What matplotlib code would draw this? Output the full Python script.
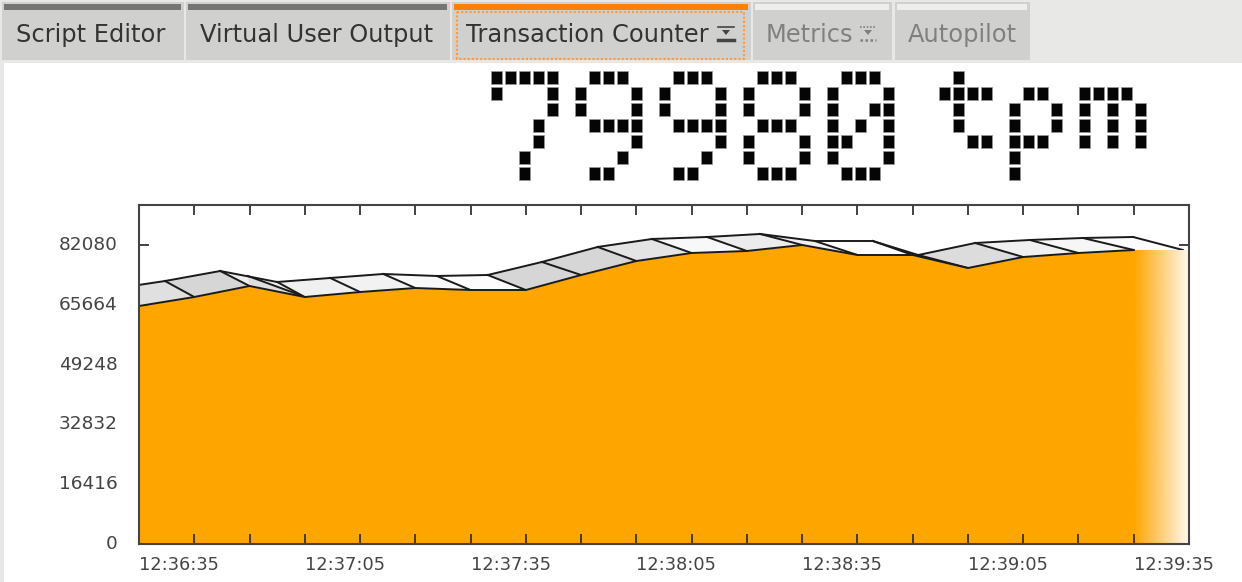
import numpy as np
import matplotlib
matplotlib.use("Agg")
import matplotlib.pyplot as plt
from matplotlib.patches import Rectangle, Polygon
from matplotlib.transforms import ScaledTranslation

# seconds after 12:36:35, one sample every 10 s
sample_times = [0, 10, 20, 30, 40, 50, 60, 70, 80, 90, 100, 110, 120, 130, 140, 150, 160, 170, 180, 190, 200]
tpm_values = [65330, 67800, 70820, 67800, 69170, 70270, 69720, 69720, 73840, 77680, 79880, 80430,
              82080, 79330, 79330, 75760, 78780, 79880, 80700, 80700, 77400]

# back edge of the ribbon
back_times = [-4.9, 4.7, 14.7, 25.0, 34.6, 44.2, 53.9, 63.1, 72.9, 83.0, 92.8, 102.8,
              112.4, 122.3, 132.8, 141.0, 151.3, 161.2, 170.8, 179.9, 188.9]
back_values = [70000, 72190, 74940, 71920, 73020, 74120, 73570, 73840, 77410, 81530, 83720, 84270,
               85100, 83170, 83170, 79330, 82620, 83450, 84000, 84270, 80700]
ribbon_greys = ["#e0e0e0", "#d6d6d6", "#eeeeee", "#f0f0f0", "#f2f2f2", "#f8f8f8", "#fcfcfc",
                "#d6d6d6", "#d6d6d6", "#e4e4e4", "#f8f8f8", "#ececec", "#f0f0f0", "#fefefe",
                "#fafafa", "#dcdcdc", "#f0f0f0", "#f6f6f6", "#fcfcfc", "#fcfcfc"]

# extra fold behind the first dip
fold_times = [19.7, 29.1]
fold_values = [73570, 68350]

y_ticks = [0, 16416, 32832, 49248, 65664, 82080]
x_labels = ["12:36:35", "12:37:05", "12:37:35", "12:38:05", "12:38:35", "12:39:05", "12:39:35"]
x_label_times = [0, 30, 60, 90, 120, 150, 180]

tab_names = ["Script Editor", "Virtual User Output", "Transaction Counter", "Metrics", "Autopilot"]
tab_lefts = [2, 186, 452, 753, 895]
tab_rights = [184, 450, 751, 892, 1030]
tab_text_x = [16, 200, 466, 766, 908]
tab_bars = ["#757573", "#757573", "#ff7f00", "#eeeeec", "#eeeeec"]
tab_text_colors = ["#333333", "#333333", "#333333", "#808080", "#808080"]

led_text = "79980 tpm"
led_glyphs = {
    "7": ["#####", "#...#", "....#", "...#.", "...#.", "..#..", "..#.."],
    "9": [".###.", "#...#", "#...#", ".####", "....#", "...#.", ".##.."],
    "8": [".###.", "#...#", "#...#", ".###.", "#...#", "#...#", ".###."],
    "0": [".###.", "#...#", "#..##", "#.#.#", "##..#", "#...#", ".###."],
    " ": [".", ".", ".", ".", ".", ".", "."],
    "t": [".#..", "####", ".#..", ".#..", "..##", "....", "...."],
    "p": ["....", ".##.", "#..#", "#..#", "###.", "#...", "#..."],
    "m": [".....", "####.", "#.#.#", "#.#.#", "#.#.#", ".....", "....."],
}

fig = plt.figure(figsize=(12.42, 5.82), dpi=100, facecolor="white")

# whole window in pixel coordinates
bg = fig.add_axes([0, 0, 1, 1])
bg.set_xlim(0, 1242)
bg.set_ylim(582, 0)
bg.axis("off")
bg.add_patch(Rectangle((0, 0), 1242, 63, color="#e8e8e6", lw=0))
bg.add_patch(Rectangle((0, 0), 4, 582, color="#e8e8e6", lw=0))

for i, name in enumerate(tab_names):
    bg.add_patch(Rectangle((tab_lefts[i], 2), tab_rights[i] - tab_lefts[i], 58, color="#d0d0ce", lw=0))
    bg.add_patch(Rectangle((tab_lefts[i] + 2, 4), tab_rights[i] - tab_lefts[i] - 5, 6, color=tab_bars[i], lw=0))
    bg.text(tab_text_x[i], 35, name, fontsize=17.4, color=tab_text_colors[i], va="center", ha="left")

bg.add_patch(Rectangle((456.5, 11.5), 287, 47.5, fill=False, ec="#ff9a3c", lw=1.5, ls=(0, (1, 1))))

# little tab icons
bg.plot([718, 734], [27, 27], color="#444444", lw=1.2)
bg.plot([718, 734], [40, 40], color="#444444", lw=2.5)
bg.add_patch(Polygon([[722, 30], [730, 30], [726, 35]], color="#444444", lw=0))
bg.plot([860, 876], [27, 27], color="#808080", lw=1.2, ls=(0, (1, 1)))
bg.add_patch(Polygon([[864, 30], [872, 30], [868, 35]], color="#808080", lw=0))
bg.plot([860, 876], [40, 40], color="#808080", lw=1.8, ls=(0, (1, 1)))

# dot matrix read-out
col = 0
for ch in led_text:
    glyph = led_glyphs[ch]
    for r, row in enumerate(glyph):
        for c, cell in enumerate(row):
            if cell == "#":
                cx = 496 + 14 * (col + c)
                cy = 77 + 16 * r
                bg.add_patch(Rectangle((cx - 5.5, cy - 6.5), 11, 13, fc="#050505", ec="#999999", lw=0.5))
    col += len(glyph[0]) + 1

ax = fig.add_axes([139 / 1242, 38 / 582, 1050 / 1242, 339 / 582])
ax.set_facecolor("white")

line_kw = dict(color="#1a1a1a", lw=1.4, zorder=2.5)
for i in range(len(sample_times) - 1):
    corners = [[sample_times[i], tpm_values[i]], [sample_times[i + 1], tpm_values[i + 1]],
               [back_times[i + 1], back_values[i + 1]], [back_times[i], back_values[i]]]
    ax.add_patch(Polygon(corners, fc=ribbon_greys[i], ec="none", zorder=2))
    if i < 19:
        ax.plot([sample_times[i], back_times[i]], [tpm_values[i], back_values[i]], **line_kw)
    ax.plot([back_times[i], back_times[i + 1]], [back_values[i], back_values[i + 1]], **line_kw)

fold_corners = [[fold_times[0], fold_values[0]], [fold_times[1], fold_values[1]],
                [sample_times[3], tpm_values[3]], [sample_times[2], tpm_values[2]]]
ax.add_patch(Polygon(fold_corners, fc="#dedede", ec="none", zorder=2.2))
ax.plot(fold_times, fold_values, **line_kw)

ax.fill_between(sample_times[:19], 0, tpm_values[:19], color="orange", lw=0, zorder=3)
ax.plot(sample_times[:19], tpm_values[:19], color="#1a1a1a", lw=1.4, zorder=4)

# fade at the right hand edge, white underneath so the ticks stay hidden
ax.add_patch(Rectangle((180, 0), 10, 80700, fc="white", ec="none", zorder=2.9))
fade = np.zeros((1, 200, 4))
fade[..., :3] = matplotlib.colors.to_rgb("orange")
fade[..., 3] = np.linspace(1.0, 0.08, 200)
ax.imshow(fade, extent=(180, 189.6, 0, 80700), aspect="auto", zorder=3, interpolation="bilinear")

ax.set_xlim(0, 190)
ax.set_ylim(0, 93055)
ax.set_xticks(range(0, 191, 10))
ax.set_xticklabels(["" for _ in range(0, 191, 10)])
ax.set_yticks(y_ticks)
ax.set_yticklabels([str(v) for v in y_ticks], fontsize=13.3, color="#444444")
ax.tick_params(axis="both", direction="in", length=7.5, width=1.3, color="#333333", top=True, right=True)
ax.tick_params(axis="y", pad=15.5)
ax.xaxis.set_zorder(5)
ax.yaxis.set_zorder(1)
nudge = ScaledTranslation(0, 1.5 / 72, fig.dpi_scale_trans)
for lab in ax.get_yticklabels():
    lab.set_transform(lab.get_transform() + nudge)
for t, lab in zip(x_label_times, x_labels):
    ax.annotate(lab, (t, 0), xytext=(0, -8.4), textcoords="offset points", ha="left", va="top",
                fontsize=12.8, color="#444444", annotation_clip=False)
for s in ax.spines.values():
    s.set_color("#444444")
    s.set_linewidth(1.5)
    s.set_zorder(6)

fig.savefig("out.png", dpi=100)
plt.close(fig)
